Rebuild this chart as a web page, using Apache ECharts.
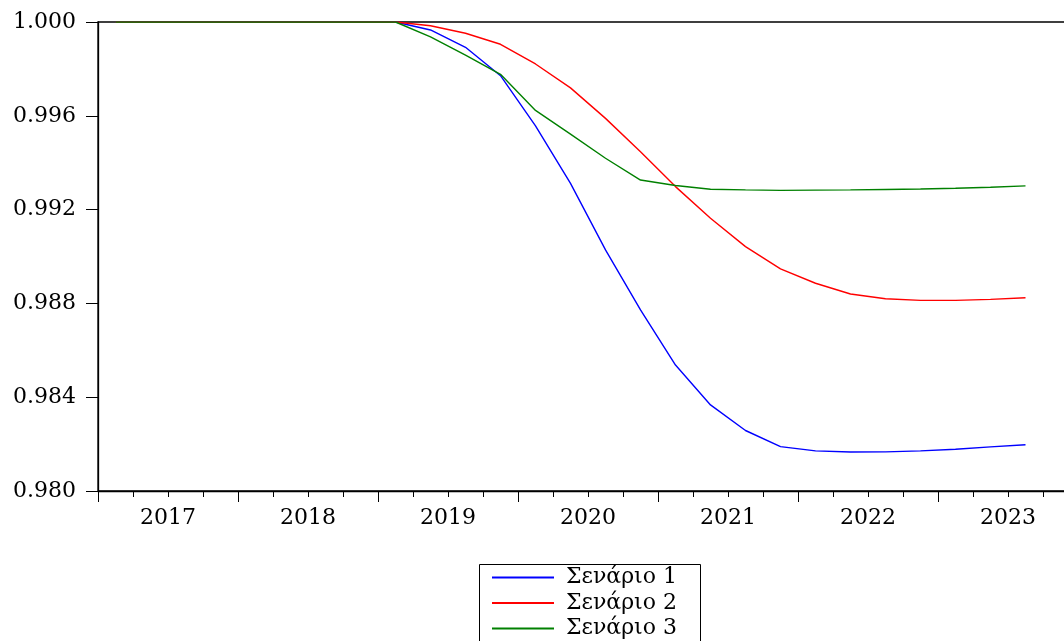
<!DOCTYPE html>
<html>
<head>
<meta charset="utf-8">
<script src="https://cdn.jsdelivr.net/npm/echarts@6/dist/echarts.min.js"></script>
<style>
html,body{margin:0;padding:0;background:#fff;}
#chart{width:1064px;height:641px;}
</style>
</head>
<body>
<div id="chart"></div>
<script>
// Quarterly categories 2017Q1 .. 2023Q4
const quarters = [
  '2017Q1','2017Q2','2017Q3','2017Q4',
  '2018Q1','2018Q2','2018Q3','2018Q4',
  '2019Q1','2019Q2','2019Q3','2019Q4',
  '2020Q1','2020Q2','2020Q3','2020Q4',
  '2021Q1','2021Q2','2021Q3','2021Q4',
  '2022Q1','2022Q2','2022Q3','2022Q4',
  '2023Q1','2023Q2','2023Q3','2023Q4'
];
const years = ['2017','2018','2019','2020','2021','2022','2023'];
const seriesNames = ['Σενάριο 1','Σενάριο 2','Σενάριο 3'];

const scenario1 = [
  1.0000,1.0000,1.0000,1.0000,1.0000,1.0000,1.0000,1.0000,1.0000,
  0.99966,0.99892,0.99771,0.99557,0.99312,0.99028,0.98772,0.98537,0.98367,
  0.98258,0.98189,0.98171,0.98166,0.98167,0.98171,0.98178,0.98188,0.98197,null
];
const scenario2 = [
  1.0000,1.0000,1.0000,1.0000,1.0000,1.0000,1.0000,1.0000,1.0000,
  0.99984,0.99952,0.99905,0.99821,0.99719,0.99589,0.99447,0.99298,0.99163,
  0.99042,0.98947,0.98886,0.98840,0.98820,0.98813,0.98813,0.98817,0.98824,null
];
const scenario3 = [
  1.0000,1.0000,1.0000,1.0000,1.0000,1.0000,1.0000,1.0000,1.0000,
  0.99937,0.99859,0.99777,0.99623,0.99522,0.99419,0.99326,0.99303,0.99287,
  0.99284,0.99282,0.99283,0.99284,0.99286,0.99288,0.99291,0.99295,0.99301,null
];

const yMin = 0.980, yMax = 1.000, yStep = 0.004;
const colors = ['#0000ff','#ff0000','#008000'];
const FONT = 'DejaVu Serif';
const legendTops = [566.5, 592, 617.5];

function makeLegend(i) {
  return {
    orient: 'vertical',
    left: 492, top: legendTops[i],
    data: [seriesNames[i]],
    icon: 'rect', itemWidth: 62, itemHeight: 2, itemGap: 0,
    padding: 0,
    selectedMode: false,
    textStyle: {color: '#000', fontFamily: FONT, fontSize: 22, lineHeight: 22, padding: [0,0,0,7]}
  };
}

const chart = echarts.init(document.getElementById('chart'), null, {renderer:'canvas'});
chart.setOption({
  animation: false,
  backgroundColor: '#ffffff',
  grid: {
    left: 98, top: 22, width: 980, height: 469,
    outerBoundsMode: 'none', containLabel: false,
    show: true, borderColor: '#000', borderWidth: 1.3, backgroundColor: 'transparent'
  },
  xAxis: [
    {
      type: 'category', data: quarters, boundaryGap: true, position: 'bottom',
      axisLine: {show: true, lineStyle: {color: '#000', width: 1.3}},
      axisTick: {show: true, interval: 0, length: 6, lineStyle: {color: '#000', width: 1}},
      axisLabel: {show: false},
      splitLine: {show: false}
    },
    {
      type: 'category', data: years, boundaryGap: true, position: 'bottom',
      axisLine: {show: false},
      axisTick: {show: true, interval: 0, length: 11, lineStyle: {color: '#000', width: 1}},
      axisLabel: {show: true, interval: 0, margin: 16, color: '#000', fontFamily: FONT, fontSize: 22},
      splitLine: {show: false}
    }
  ],
  yAxis: {
    type: 'value', min: yMin, max: yMax, interval: yStep,
    axisLine: {show: true, lineStyle: {color: '#000', width: 1.3}},
    axisTick: {show: true, length: 12, lineStyle: {color: '#000', width: 1}},
    axisLabel: {margin: 22, color: '#000', fontFamily: FONT, fontSize: 22,
      formatter: v => v.toFixed(3)},
    splitLine: {show: false}
  },
  legend: [makeLegend(0), makeLegend(1), makeLegend(2)],
  graphic: [{
    type: 'rect', left: 477, top: 562, silent: true,
    shape: {width: 221, height: 100},
    style: {fill: 'none', stroke: '#000', lineWidth: 1}
  }],
  series: [
    {name: seriesNames[0], type: 'line', data: scenario1, xAxisIndex: 0, showSymbol: false, symbol: 'none',
      lineStyle: {color: colors[0], width: 1.4}, itemStyle: {color: colors[0]}, z: 3},
    {name: seriesNames[1], type: 'line', data: scenario2, xAxisIndex: 0, showSymbol: false, symbol: 'none',
      lineStyle: {color: colors[1], width: 1.4}, itemStyle: {color: colors[1]}, z: 4},
    {name: seriesNames[2], type: 'line', data: scenario3, xAxisIndex: 0, showSymbol: false, symbol: 'none',
      lineStyle: {color: colors[2], width: 1.4}, itemStyle: {color: colors[2]}, z: 5}
  ]
});
</script>
</body>
</html>
